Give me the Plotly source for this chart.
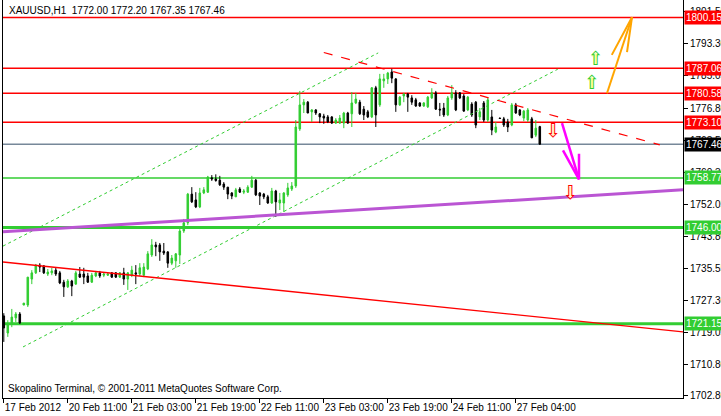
import plotly.graph_objects as go

# ---------------- data ----------------
bar_index = list(range(135))

open_ = [1723.2, 1718.8, 1721.1, 1722.7, 1723.7, 1726.0, 1726.0, 1732.7, 1734.3, 1736.3,
         1736.1, 1734.0, 1734.3, 1735.0, 1734.3, 1731.9, 1730.7, 1732.2, 1731.4, 1734.0,
         1734.0, 1733.5, 1731.9, 1733.5, 1734.3, 1733.7, 1733.7, 1734.3, 1734.3, 1733.2,
         1734.3, 1732.7, 1733.7, 1734.3, 1734.0, 1733.7, 1735.3, 1738.9, 1741.5, 1741.5,
         1739.9, 1739.7, 1736.8, 1737.4, 1738.9, 1745.1, 1747.2, 1754.6, 1753.1, 1751.3,
         1754.9, 1755.1, 1758.8, 1758.5, 1758.2, 1757.2, 1756.4, 1754.9, 1753.9, 1755.9,
         1755.1, 1755.1, 1756.4, 1758.2, 1754.9, 1754.6, 1753.9, 1752.3, 1755.4, 1752.3,
         1752.3, 1754.4, 1755.9, 1756.7, 1771.4, 1777.6, 1778.3, 1775.8, 1776.3, 1775.3,
         1774.7, 1774.5, 1774.5, 1772.9, 1772.9, 1772.9, 1775.5, 1775.3, 1778.1, 1778.3,
         1776.5, 1775.8, 1774.5, 1782.0, 1777.6, 1783.8, 1784.3, 1786.1, 1784.3, 1777.6,
         1779.9, 1780.4, 1779.4, 1778.9, 1778.1, 1777.3, 1777.1, 1779.4, 1780.7, 1776.5,
         1776.8, 1775.0, 1779.4, 1780.7, 1780.7, 1779.9, 1776.3, 1777.8, 1778.3, 1774.5,
         1778.1, 1773.7, 1774.5, 1770.6, 1774.2, 1774.0, 1773.2, 1772.4, 1777.6, 1776.3,
         1774.2, 1773.7, 1774.0, 1769.8, 1772.00]

high = [1723.9, 1722.1, 1725.0, 1724.2, 1724.2, 1726.5, 1733.2, 1735.0, 1736.6, 1736.8,
        1736.3, 1735.3, 1735.6, 1735.6, 1734.8, 1732.5, 1732.7, 1732.5, 1734.8, 1735.8,
        1735.6, 1734.3, 1734.3, 1734.8, 1734.8, 1734.5, 1734.3, 1734.5, 1734.5, 1734.5,
        1735.6, 1734.5, 1736.1, 1736.3, 1736.8, 1736.8, 1739.9, 1743.0, 1742.3, 1742.0,
        1742.0, 1739.9, 1738.9, 1739.4, 1745.9, 1748.2, 1754.9, 1756.4, 1755.1, 1756.2,
        1756.4, 1759.3, 1759.5, 1759.7, 1759.3, 1757.7, 1756.4, 1755.1, 1756.2, 1756.4,
        1755.9, 1756.9, 1759.3, 1758.5, 1755.1, 1754.9, 1754.4, 1756.2, 1755.7, 1754.9,
        1755.1, 1757.5, 1757.7, 1773.7, 1781.2, 1779.1, 1778.6, 1776.5, 1776.5, 1775.5,
        1775.3, 1775.0, 1774.7, 1774.2, 1775.0, 1775.8, 1775.8, 1780.9, 1780.7, 1778.9,
        1777.3, 1776.3, 1782.2, 1782.5, 1785.6, 1785.6, 1786.1, 1786.9, 1784.5, 1779.9,
        1780.7, 1780.7, 1780.1, 1779.4, 1778.3, 1778.3, 1779.9, 1781.9, 1781.2, 1778.1,
        1778.1, 1779.9, 1782.7, 1781.4, 1780.9, 1780.4, 1779.9, 1778.3, 1778.6, 1776.8,
        1778.6, 1779.4, 1776.3, 1773.2, 1774.3, 1774.5, 1774.0, 1778.1, 1778.1, 1776.5,
        1776.3, 1776.8, 1774.5, 1773.7, 1772.20]

low = [1716.5, 1717.8, 1720.3, 1721.6, 1721.1, 1726.0, 1725.5, 1731.4, 1734.0, 1734.5,
       1734.0, 1733.5, 1733.7, 1733.5, 1731.4, 1728.1, 1730.4, 1728.3, 1731.2, 1733.0,
       1731.4, 1731.7, 1731.7, 1733.2, 1733.0, 1733.2, 1733.5, 1733.0, 1733.0, 1733.0,
       1731.2, 1729.9, 1733.2, 1731.4, 1733.5, 1733.2, 1735.0, 1738.4, 1738.6, 1737.4,
       1738.9, 1735.6, 1736.3, 1735.6, 1736.6, 1744.6, 1746.6, 1752.3, 1751.0, 1751.0,
       1754.6, 1754.9, 1758.0, 1757.8, 1756.7, 1755.7, 1753.3, 1753.3, 1753.9, 1754.9,
       1754.6, 1754.9, 1756.2, 1754.1, 1751.8, 1753.3, 1752.1, 1752.1, 1748.7, 1750.5,
       1750.0, 1753.9, 1755.4, 1756.2, 1770.9, 1775.5, 1775.5, 1773.2, 1775.0, 1772.9,
       1772.7, 1772.9, 1772.7, 1772.7, 1772.7, 1771.6, 1772.7, 1771.9, 1777.8, 1775.0,
       1773.7, 1774.2, 1774.2, 1771.9, 1777.1, 1782.0, 1783.0, 1783.2, 1775.8, 1777.3,
       1778.3, 1775.8, 1777.6, 1777.1, 1777.1, 1777.1, 1776.8, 1779.1, 1776.3, 1774.7,
       1774.5, 1774.7, 1778.9, 1776.0, 1779.1, 1775.8, 1776.0, 1774.5, 1771.6, 1773.7,
       1773.2, 1773.2, 1769.8, 1770.3, 1774.0, 1771.9, 1770.6, 1772.1, 1775.3, 1774.7,
       1773.4, 1773.2, 1769.1, 1769.3, 1767.35]

close = [1720.1, 1720.9, 1722.9, 1723.7, 1721.4, 1726.5, 1733.2, 1734.3, 1736.3, 1735.8,
         1734.3, 1734.5, 1734.8, 1734.0, 1731.7, 1730.7, 1732.2, 1730.9, 1734.3, 1733.2,
         1733.2, 1731.9, 1733.7, 1734.3, 1733.5, 1734.0, 1734.0, 1733.2, 1733.2, 1734.3,
         1732.7, 1734.3, 1735.0, 1734.0, 1735.6, 1735.8, 1739.2, 1741.5, 1741.0, 1739.7,
         1739.4, 1736.8, 1738.1, 1739.2, 1745.1, 1747.2, 1754.6, 1752.6, 1751.3, 1754.9,
         1755.7, 1759.0, 1758.5, 1758.1, 1757.0, 1756.4, 1754.6, 1754.1, 1755.7, 1755.1,
         1755.4, 1756.4, 1758.2, 1754.4, 1754.1, 1753.9, 1752.3, 1755.4, 1752.6, 1753.1,
         1754.9, 1756.2, 1756.7, 1771.9, 1777.6, 1778.3, 1775.5, 1776.3, 1775.5, 1774.5,
         1774.2, 1773.2, 1772.9, 1773.7, 1774.2, 1775.5, 1772.9, 1778.1, 1779.1, 1775.3,
         1775.0, 1774.5, 1782.0, 1775.0, 1784.3, 1784.3, 1785.8, 1784.5, 1777.6, 1779.6,
         1780.4, 1779.6, 1778.3, 1777.3, 1777.3, 1778.1, 1779.6, 1780.7, 1776.5, 1776.3,
         1775.0, 1779.4, 1780.7, 1776.3, 1779.4, 1776.0, 1779.6, 1775.0, 1772.4, 1775.8,
         1773.7, 1778.9, 1771.1, 1771.9, 1774.1, 1772.4, 1771.9, 1777.6, 1775.5, 1775.0,
         1776.0, 1776.3, 1769.1, 1771.6, 1767.46]

x_tick_vals = [0, 16, 32, 48, 64, 80, 96, 112, 128]
x_tick_text = ["17 Feb 2012", "20 Feb 11:00", "21 Feb 03:00", "21 Feb 19:00",
               "22 Feb 11:00", "23 Feb 03:00", "23 Feb 19:00", "24 Feb 11:00",
               "27 Feb 04:00"]
y_tick_vals = [1801.55, 1793.30, 1785.05, 1776.80, 1768.55, 1760.30, 1752.05,
               1743.80, 1735.55, 1727.30, 1719.05, 1710.80, 1702.80]
y_tick_text = ["%.2f" % v for v in y_tick_vals]

red_levels = [1800.15, 1787.06, 1780.58, 1773.10]
green_levels = [1758.77, 1746.00, 1721.15]
bid_level = 1767.46

title_text = "XAUUSD,H1  1772.00 1772.20 1767.35 1767.46"
footer_text = "Skopalino Terminal, \u00a9 2001-2011 MetaQuotes Software Corp."

# trend lines (bar index, price)
purple_x, purple_y = [-0.2, 169.8], [1744.9, 1755.7]
red_trend_x, red_trend_y = [-0.2, 169.8], [1737.1, 1719.1]
resist_x, resist_y = [80.0, 164.0], [1791.1, 1767.3]
chan_up_x, chan_up_y = [-0.2, 93.6], [1741.2, 1791.0]
chan_lo_x, chan_lo_y = [4.8, 138.5], [1715.2, 1786.8]
orange_x = [150.8, 157.05, None, 152.0, 157.05, 155.8]
orange_y = [1780.6, 1800.2, None, 1790.5, 1800.2, 1791.2]
magenta_x = [139.55, 143.8, None, 139.8, 143.8, 143.8]
magenta_y = [1772.9, 1758.4, None, 1765.9, 1758.4, 1765.0]
down_arrows_x, down_arrows_y = [137.3, 141.6], [1770.6, 1754.6]
up_arrows_x, up_arrows_y = [147.0, 147.9], [1782.9, 1789.1]

FONT = "Liberation Sans, Arial, sans-serif"
FS = 10
GREEN = "#32CD32"

fig = go.Figure()

fig.add_trace(go.Candlestick(
    x=bar_index, open=open_, high=high, low=low, close=close,
    increasing=dict(line=dict(color=GREEN, width=1), fillcolor=GREEN),
    decreasing=dict(line=dict(color="black", width=1), fillcolor="black"),
    whiskerwidth=0, hoverinfo="skip", showlegend=False))

def line(xs, ys, color, width, dash="solid"):
    fig.add_trace(go.Scatter(x=xs, y=ys, mode="lines",
                             line=dict(color=color, width=width, dash=dash),
                             hoverinfo="skip", showlegend=False))

line(chan_up_x, chan_up_y, GREEN, 1, "dot")
line(chan_lo_x, chan_lo_y, GREEN, 1, "dot")
line(purple_x, purple_y, "#BA55D3", 3)
line(red_trend_x, red_trend_y, "#FF0000", 1.3)
line(resist_x, resist_y, "#FF0000", 1.2, "dash")
line(orange_x, orange_y, "#FFA500", 2)
line(magenta_x, magenta_y, "#FF00FF", 2.5)

# arrow signs: pale fill glyph underneath, coloured outline glyph on top
fig.add_trace(go.Scatter(x=down_arrows_x, y=down_arrows_y, mode="text", text=["\u2b07"] * 2,
                         textfont=dict(color="#FFF5C8", size=15, family="DejaVu Sans"),
                         hoverinfo="skip", showlegend=False))
fig.add_trace(go.Scatter(x=down_arrows_x, y=down_arrows_y, mode="text", text=["\u21e9"] * 2,
                         textfont=dict(color="#FF0000", size=19, family="DejaVu Sans"),
                         hoverinfo="skip", showlegend=False))
fig.add_trace(go.Scatter(x=up_arrows_x, y=up_arrows_y, mode="text", text=["\u2b06"] * 2,
                         textfont=dict(color="#FFFF99", size=15, family="DejaVu Sans"),
                         hoverinfo="skip", showlegend=False))
fig.add_trace(go.Scatter(x=up_arrows_x, y=up_arrows_y, mode="text", text=["\u21e7"] * 2,
                         textfont=dict(color=GREEN, size=19, family="DejaVu Sans"),
                         hoverinfo="skip", showlegend=False))

shapes = []
annotations = []

def level(price, color, width, box_bg, box_fg="white"):
    shapes.append(dict(type="line", xref="paper", x0=0, x1=1, yref="y", y0=price, y1=price,
                       line=dict(color=color, width=width), layer="below"))
    annotations.append(dict(xref="paper", x=1, xanchor="left", xshift=1, yref="y", y=price,
                            yanchor="middle", text="%.2f" % price, showarrow=False,
                            bgcolor=box_bg, font=dict(color=box_fg, size=FS, family=FONT),
                            borderpad=1))

for p in red_levels:
    level(p, "#FF0000", 1.5, "#FF0000")
level(bid_level, "#778899", 1.5, "black")
for p, w in zip(green_levels, [1.5, 3, 3]):
    level(p, GREEN, w, GREEN)

annotations.append(dict(xref="paper", x=0, xanchor="left", xshift=4, yref="paper", y=1,
                        yanchor="top", yshift=-3, text=title_text.replace(" ", "\u00a0"),
                        showarrow=False, font=dict(color="black", size=FS, family=FONT)))
annotations.append(dict(xref="paper", x=0, xanchor="left", xshift=3, yref="paper", y=0,
                        yanchor="bottom", yshift=2, text=footer_text, showarrow=False,
                        font=dict(color="black", size=FS, family=FONT)))

fig.update_layout(
    width=721, height=416,
    margin=dict(l=3, r=38, t=0, b=18, autoexpand=False),
    paper_bgcolor="white", plot_bgcolor="white",
    boxgap=0.45,
    shapes=shapes, annotations=annotations,
    xaxis=dict(range=[-0.2, 169.8], rangeslider=dict(visible=False), showgrid=False,
               zeroline=False, showline=True, linecolor="black", linewidth=1,
               tickmode="array", tickvals=x_tick_vals, ticktext=x_tick_text,
               ticks="outside", ticklen=4, tickcolor="black", tickangle=0,
               automargin=False,
               ticklabelposition="outside right",
               tickfont=dict(color="black", size=FS, family=FONT)),
    yaxis=dict(range=[1702.04, 1804.64], side="right", showgrid=False, zeroline=False,
               showline=True, mirror=True, linecolor="black", linewidth=1,
               tickmode="array", tickvals=y_tick_vals, ticktext=y_tick_text,
               ticks="outside", ticklen=4, tickcolor="black", automargin=False,
               tickfont=dict(color="black", size=FS, family=FONT)),
)

fig.write_html("out.html", config={"displayModeBar": False},
               post_script="document.body.style.margin='0px';document.body.style.overflow='hidden';")
